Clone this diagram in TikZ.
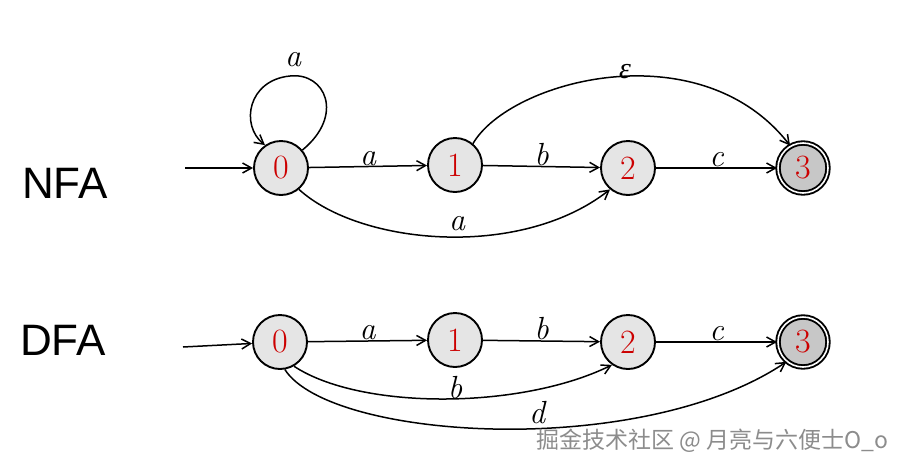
\documentclass[tikz,border=0pt]{standalone}
\usepackage{fontspec}
\newfontfamily\cjk{Noto Sans CJK SC}
\newfontfamily\labsans{Liberation Sans}
\newfontfamily\grk{Liberation Serif}
\usetikzlibrary{arrows.meta}
\begin{document}
\begin{tikzpicture}[x=1pt,y=-1pt,
  state/.style={circle,draw,line width=1.9pt,fill=black!10,minimum size=54pt,inner sep=0pt,text=red!80!black,font=\fontsize{34}{34}\selectfont},
  accept/.style={state,fill=black!22,double=white,double distance=1.6pt,minimum size=50pt},
  edge/.style={line width=1.5pt,-{Straight Barb[length=9pt,width=10pt,line width=1.5pt]}},
  lab/.style={font=\fontsize{32}{32}\selectfont\itshape},
  big/.style={font=\labsans\fontsize{44}{44}\selectfont}
]
\useasboundingbox (0,0) rectangle (900,472);
% NFA
\node[big] (nfa) at (65,183) {NFA};
\node[state] (n0) at (281,168) {0};
\node[state] (n1) at (455,165) {1};
\node[state] (n2) at (628,168) {2};
\node[accept] (n3) at (803,168) {3};
\coordinate (ns) at (185,168);
\draw[edge] (ns) -- (n0);
\draw[edge] (n0.40) .. controls (345,115) and (325,72) .. (290,76) .. controls (248,80) and (240,125) .. (n0.125);
\node[lab] (la0) at (293,60) {a};
\draw[edge] (n0) -- node[lab,above=-3pt] (la1) {a} (n1);
\draw[edge] (n1) -- node[lab,above=-3pt] (lb1) {b} (n2);
\draw[edge] (n2) -- node[lab,above=-3pt] (lc1) {c} (n3);
\draw[edge] (n1.50) .. controls (510,80) and (700,30) .. (n3.120);
\node[lab,font=\grk\itshape\fontsize{30}{30}\selectfont] (leps) at (625,72) {ε};
\draw[edge] (n0.-50) .. controls (360,245) and (520,260) .. (n2.-130);
\node[lab] (la2) at (457,224) {a};
% DFA
\node[big] (dfa) at (63,340) {DFA};
\node[state] (d0) at (280,342) {0};
\node[state] (d1) at (455,340) {1};
\node[state] (d2) at (628,342) {2};
\node[accept] (d3) at (803,342) {3};
\coordinate (ds) at (183,347);
\draw[edge] (ds) -- (d0);
\draw[edge] (d0) -- node[lab,above=-3pt] (da) {a} (d1);
\draw[edge] (d1) -- node[lab,above=-3pt] (db) {b} (d2);
\draw[edge] (d2) -- node[lab,above=-3pt] (dc) {c} (d3);
\draw[edge] (d0.-60) .. controls (360,410) and (520,410) .. (d2.-125);
\node[lab] (db2) at (455,388) {b};
\draw[edge] (d0.-80) .. controls (330,440) and (640,460) .. (d3.-130);
\node[lab] (dd) at (537,413) {d};
% watermark
\node[font=\cjk\fontsize{23}{23}\selectfont,text=black!45,anchor=west] (wm) at (533,441) {掘金技术社区 @ 月亮与六便士O\_o};
\end{tikzpicture}
\end{document}
